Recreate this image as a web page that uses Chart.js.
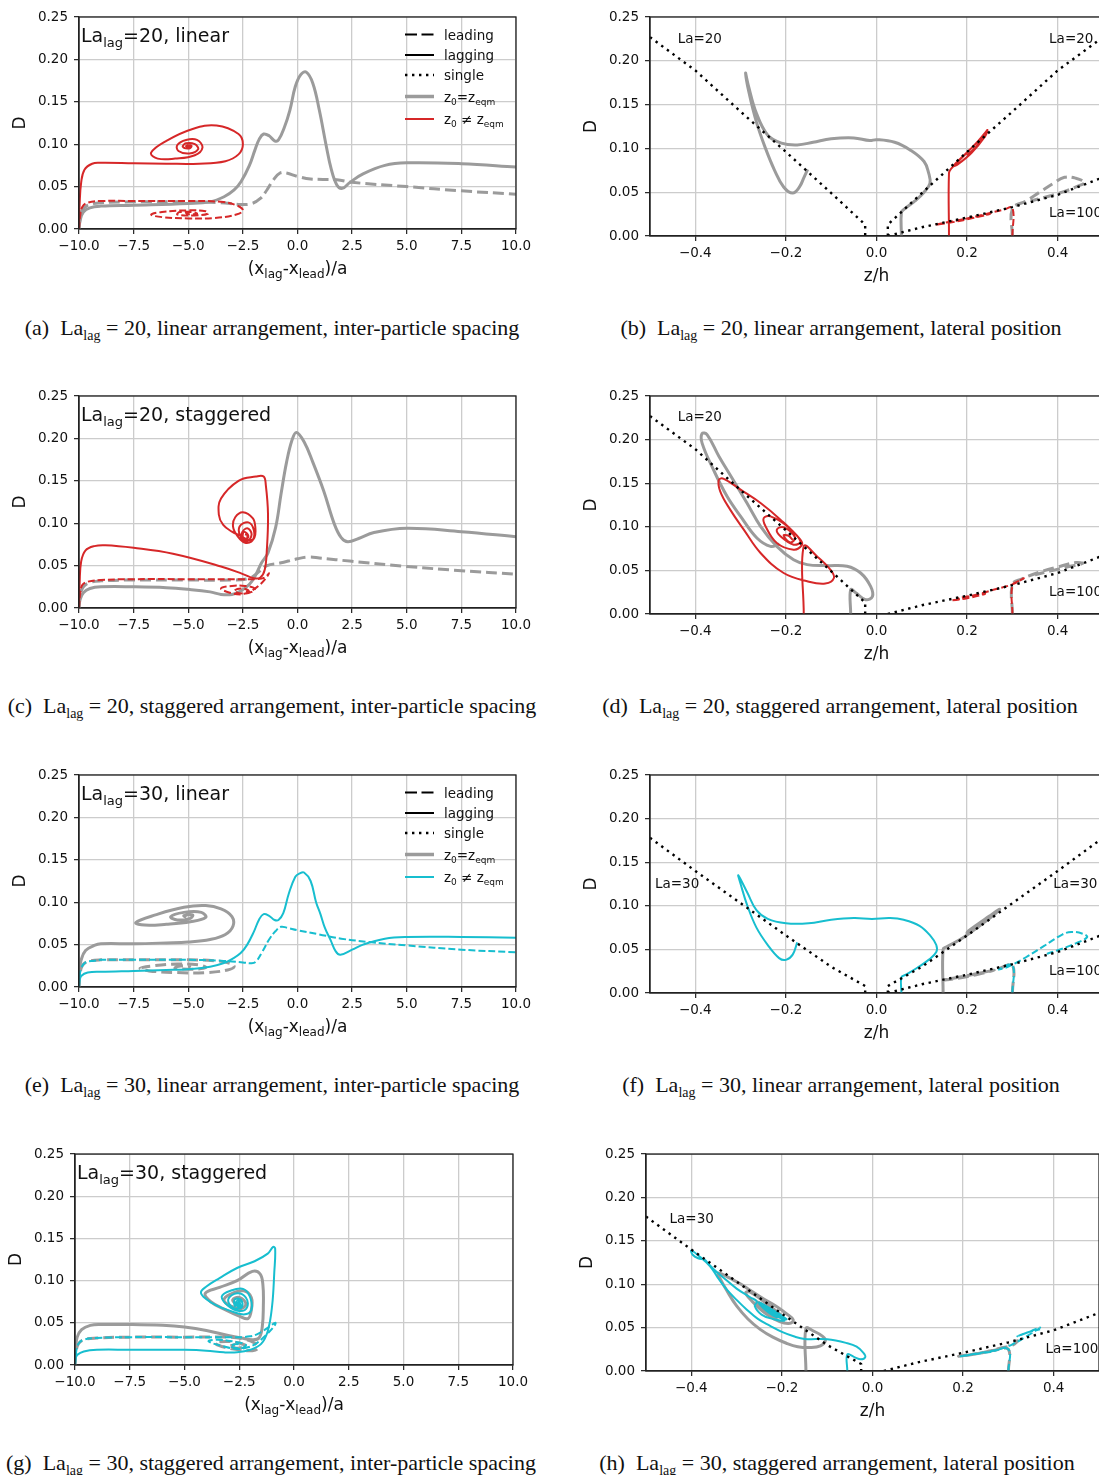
<!DOCTYPE html>
<html>
<head>
<meta charset="utf-8">
<script src="https://cdn.jsdelivr.net/npm/chart.js@4.4.0/dist/chart.umd.min.js"></script>
<style>
  html, body { margin: 0; padding: 0; background: #fff; overflow: hidden; width: 1099px; height: 1475px; }
  canvas { position: absolute; }
  .cap { position: absolute; width: 560px; text-align: center; font-family: "Liberation Serif", "DejaVu Serif", serif;
         font-size: 22px; line-height: 24px; color: #111; white-space: nowrap; }
  .cap sub { font-size: 14px; vertical-align: -5px; line-height: 0; }
</style>
</head>
<body>
<div class="cap" style="left:-8px;top:316px">(a)&nbsp; La<sub>lag</sub> = 20, linear arrangement, inter-particle spacing</div>
<div class="cap" style="left:561px;top:316px">(b)&nbsp; La<sub>lag</sub> = 20, linear arrangement, lateral position</div>
<div class="cap" style="left:-8px;top:694px">(c)&nbsp; La<sub>lag</sub> = 20, staggered arrangement, inter-particle spacing</div>
<div class="cap" style="left:560px;top:694px">(d)&nbsp; La<sub>lag</sub> = 20, staggered arrangement, lateral position</div>
<div class="cap" style="left:-8px;top:1073px">(e)&nbsp; La<sub>lag</sub> = 30, linear arrangement, inter-particle spacing</div>
<div class="cap" style="left:561px;top:1073px">(f)&nbsp; La<sub>lag</sub> = 30, linear arrangement, lateral position</div>
<div class="cap" style="left:-9px;top:1451px">(g)&nbsp; La<sub>lag</sub> = 30, staggered arrangement, inter-particle spacing</div>
<div class="cap" style="left:557px;top:1451px">(h)&nbsp; La<sub>lag</sub> = 30, staggered arrangement, lateral position</div>
<script>
const GRAY = '#9b9b9b', RED = '#d62728', CYAN = '#17becf', BLACK = '#000';

// tick positions
const xTicksSpacing = [-10, -7.5, -5, -2.5, 0, 2.5, 5, 7.5, 10];
const xTicksLateral = [-0.4, -0.2, 0, 0.2, 0.4];
const yTicks = [0, 0.05, 0.1, 0.15, 0.2, 0.25];

// single-particle reference lines (z/h, D)
const single20L = [[-0.5,0.227],[-0.4,0.189],[-0.3,0.142],[-0.2,0.096],[-0.1,0.049],[-0.025,0.013],[-0.025,0]];
const single20R = [[0.025,0],[0.025,0.013],[0.1,0.049],[0.2,0.096],[0.3,0.142],[0.4,0.189],[0.5,0.227]];
const single30L = [[-0.5,0.178],[-0.4,0.14],[-0.3,0.103],[-0.2,0.066],[-0.1,0.03],[-0.025,0.008],[-0.025,0]];
const single30R = [[0.025,0],[0.025,0.008],[0.1,0.03],[0.2,0.066],[0.3,0.103],[0.4,0.14],[0.5,0.178]];
const single100 = [[0.025,0],[0.1,0.01],[0.2,0.021],[0.3,0.033],[0.4,0.047],[0.5,0.067]];

// (a) La_lag=20, linear, spacing
const aLeadEqm = [[-10,0],[-9.95,0.012],[-9.85,0.022],[-9.6,0.028],[-9,0.031],[-7.5,0.032],[-5,0.032],[-3.5,0.031],[-2.6,0.029],[-2.1,0.03],[-1.7,0.036],[-1.4,0.046],[-1.1,0.058],[-0.8,0.066],[-0.5,0.066],[0,0.062],[0.6,0.059],[1.8,0.058],[2.5,0.055],[5,0.05],[7.5,0.045],[10,0.041]];
const aLagEqm = [[-10,0],[-9.95,0.01],[-9.8,0.02],[-9.5,0.025],[-9,0.027],[-7.5,0.028],[-5,0.03],[-4,0.032],[-3.36,0.038],[-2.9,0.046],[-2.58,0.056],[-2.2,0.075],[-1.95,0.093],[-1.75,0.106],[-1.55,0.112],[-1.3,0.11],[-1.05,0.104],[-0.87,0.105],[-0.6,0.12],[-0.35,0.14],[-0.1,0.168],[0.15,0.182],[0.4,0.185],[0.7,0.172],[1.0,0.14],[1.3,0.1],[1.55,0.07],[1.8,0.052],[2.05,0.048],[2.4,0.055],[3.0,0.065],[4.0,0.075],[5.0,0.078],[7.5,0.077],[10,0.073]];
const aLagNeq = [[-10,0],[-9.97,0.03],[-9.9,0.055],[-9.75,0.07],[-9.4,0.077],[-9,0.078],[-7.5,0.0775],[-6,0.077],[-4.5,0.077],[-3.3,0.08],[-2.7,0.088],[-2.5,0.1],[-2.7,0.112],[-3.7,0.122],[-4.8,0.118],[-6,0.104],[-6.7,0.09],[-6.4,0.083],[-5.6,0.083],[-4.7,0.087],[-4.35,0.096],[-4.6,0.105],[-5.1,0.105],[-5.5,0.099],[-5.45,0.092],[-4.95,0.089],[-4.55,0.094],[-4.7,0.1],[-5.1,0.101],[-5.25,0.097],[-4.95,0.095],[-4.85,0.098],[-5.0,0.099],[-5.1,0.0975],[-4.95,0.097],[-4.9,0.0985],[-5.0,0.0985]];
const aLeadNeq = [[-10,0],[-9.95,0.015],[-9.85,0.026],[-9.6,0.031],[-9,0.033],[-7.5,0.033],[-5,0.033],[-3.5,0.032],[-2.8,0.028],[-2.5,0.022],[-2.8,0.017],[-3.8,0.013],[-5,0.0125],[-6.2,0.014],[-6.7,0.017],[-6.2,0.02],[-5,0.022],[-4.2,0.021],[-4.1,0.018],[-4.7,0.016],[-5.5,0.017],[-5.4,0.02],[-4.8,0.02],[-4.6,0.018],[-5.0,0.0175],[-5.1,0.019],[-4.9,0.0185]];

// (b) La_lag=20, linear, lateral position
const bLagEqm = [[0.055,0],[0.055,0.027],[0.062,0.031],[0.085,0.04],[0.105,0.05],[0.118,0.06],[0.115,0.072],[0.105,0.085],[0.075,0.098],[0.04,0.107],[0.0,0.11],[-0.015,0.109],[-0.05,0.112],[-0.1,0.111],[-0.14,0.107],[-0.175,0.104],[-0.21,0.106],[-0.24,0.115],[-0.265,0.14],[-0.283,0.172],[-0.289,0.186],[-0.282,0.165],[-0.265,0.13],[-0.245,0.1],[-0.225,0.075],[-0.205,0.056],[-0.185,0.049],[-0.17,0.056],[-0.16,0.067],[-0.152,0.076]];
const bLeadEqm = [[0.3,0],[0.3,0.031],[0.33,0.04],[0.36,0.05],[0.39,0.06],[0.415,0.067],[0.44,0.066],[0.46,0.061],[0.45,0.058],[0.41,0.05],[0.37,0.044],[0.34,0.04]];
const bLagNeq = [[0.16,0],[0.16,0.072],[0.165,0.077],[0.19,0.09],[0.22,0.106],[0.24,0.118],[0.245,0.121],[0.24,0.114],[0.21,0.095],[0.18,0.082],[0.17,0.08],[0.195,0.093],[0.225,0.108],[0.238,0.114],[0.22,0.102],[0.2,0.092]];
const bLeadNeq = [[0.3,0],[0.3,0.032],[0.28,0.03],[0.24,0.025],[0.2,0.02],[0.16,0.016],[0.13,0.013],[0.16,0.015],[0.2,0.019],[0.25,0.025],[0.22,0.022],[0.18,0.018]];

// (c) La_lag=20, staggered, spacing
const cLeadEqm = [[-10,0],[-9.95,0.014],[-9.8,0.025],[-9.5,0.03],[-9,0.032],[-7.5,0.033],[-5,0.033],[-3,0.033],[-2.2,0.035],[-1.8,0.042],[-1.4,0.05],[-0.8,0.053],[0,0.058],[0.5,0.06],[1,0.059],[2.5,0.055],[5,0.049],[7.5,0.044],[10,0.04]];
const cLagEqm = [[-10,0],[-9.95,0.01],[-9.8,0.018],[-9.5,0.023],[-9,0.025],[-7.5,0.025],[-6,0.024],[-5,0.022],[-4,0.019],[-3.5,0.016],[-3,0.016],[-2.6,0.02],[-2.2,0.028],[-1.95,0.037],[-1.65,0.053],[-1.35,0.065],[-1.0,0.095],[-0.75,0.135],[-0.5,0.172],[-0.25,0.198],[-0.05,0.207],[0.3,0.196],[0.7,0.172],[1.2,0.138],[1.7,0.098],[2.0,0.083],[2.3,0.078],[2.8,0.082],[3.5,0.089],[5,0.094],[7.5,0.09],[10,0.084]];
const cLagNeq = [[-10,0],[-9.97,0.03],[-9.9,0.055],[-9.7,0.068],[-9.3,0.073],[-8.8,0.074],[-7.5,0.071],[-5.7,0.064],[-3.5,0.049],[-2.5,0.04],[-2.0,0.035],[-1.7,0.036],[-1.5,0.045],[-1.4,0.07],[-1.35,0.111],[-1.45,0.145],[-1.55,0.155],[-1.9,0.155],[-2.7,0.15],[-3.5,0.129],[-3.6,0.11],[-3.4,0.098],[-3.0,0.09],[-2.6,0.085],[-2.2,0.08],[-1.97,0.083],[-1.93,0.095],[-2.05,0.106],[-2.5,0.113],[-2.85,0.107],[-2.95,0.096],[-2.75,0.085],[-2.4,0.077],[-2.05,0.08],[-2.0,0.092],[-2.25,0.101],[-2.65,0.096],[-2.6,0.084],[-2.3,0.079],[-2.1,0.087],[-2.3,0.094],[-2.55,0.088],[-2.4,0.08],[-2.25,0.085],[-2.45,0.09],[-2.5,0.083],[-2.35,0.081],[-2.3,0.086],[-2.4,0.087]];
const cLeadNeq = [[-10,0],[-9.95,0.016],[-9.85,0.027],[-9.6,0.031],[-9,0.033],[-7.5,0.034],[-5,0.034],[-2.5,0.034],[-1.9,0.034],[-1.5,0.036],[-1.3,0.041],[-1.45,0.035],[-1.7,0.028],[-2.0,0.022],[-2.3,0.018],[-2.6,0.016],[-3.1,0.018],[-3.5,0.023],[-3.0,0.026],[-2.4,0.026],[-1.95,0.023],[-2.1,0.019],[-2.5,0.017],[-2.9,0.02],[-2.6,0.023],[-2.25,0.021],[-2.4,0.019]];

// (d) La_lag=20, staggered, lateral position
const dLagEqm = [[-0.057,0],[-0.057,0.028],[-0.045,0.024],[-0.024,0.0164],[-0.009,0.02],[-0.013,0.0317],[-0.035,0.047],[-0.065,0.0547],[-0.109,0.0555],[-0.153,0.0566],[-0.183,0.0622],[-0.22,0.0776],[-0.256,0.1006],[-0.286,0.1273],[-0.319,0.156],[-0.348,0.181],[-0.374,0.2057],[-0.385,0.207],[-0.385,0.196],[-0.36,0.1656],[-0.33,0.135],[-0.3,0.112],[-0.264,0.0872],[-0.234,0.0776],[-0.215,0.08]];
const dLeadEqm = [[0.3,0],[0.3,0.034],[0.32,0.04],[0.36,0.048],[0.4,0.054],[0.44,0.059],[0.455,0.058],[0.43,0.055],[0.39,0.05],[0.35,0.045]];
const dLagNeq = [[-0.1606,0],[-0.1606,0.0776],[-0.131,0.066],[-0.102,0.051],[-0.094,0.0413],[-0.113,0.0349],[-0.153,0.0375],[-0.205,0.047],[-0.256,0.07],[-0.293,0.0968],[-0.323,0.1197],[-0.345,0.1407],[-0.348,0.154],[-0.337,0.155],[-0.3,0.1426],[-0.256,0.1273],[-0.212,0.1082],[-0.168,0.0853],[-0.165,0.079],[-0.183,0.0738],[-0.22,0.0814],[-0.245,0.1006],[-0.249,0.11],[-0.234,0.112],[-0.197,0.1006],[-0.168,0.0834],[-0.183,0.0795],[-0.212,0.0891],[-0.22,0.0967],[-0.205,0.0995],[-0.18,0.088],[-0.19,0.082],[-0.205,0.09],[-0.195,0.09],[-0.185,0.085]];
const dLeadNeq = [[0.3,0],[0.3,0.033],[0.315,0.038],[0.325,0.041],[0.3,0.034],[0.26,0.028],[0.22,0.022],[0.18,0.017],[0.165,0.0155],[0.2,0.018],[0.24,0.023],[0.2,0.02],[0.18,0.018]];

// (e) La_lag=30, linear, spacing
const eLagEqm = [[-10,0],[-9.97,0.02],[-9.9,0.032],[-9.7,0.043],[-9.3,0.049],[-9,0.051],[-7.5,0.051],[-6,0.052],[-5,0.053],[-4,0.056],[-3.3,0.062],[-2.95,0.072],[-3.0,0.083],[-3.5,0.092],[-4.2,0.096],[-5.2,0.094],[-6.5,0.085],[-7.4,0.076],[-7.0,0.073],[-6.0,0.074],[-4.9,0.077],[-4.2,0.082],[-4.4,0.088],[-5.2,0.088],[-5.8,0.083],[-5.5,0.079],[-4.9,0.081],[-4.8,0.085],[-5.2,0.084],[-5.1,0.082]];
const eLeadEqm = [[-10,0],[-9.95,0.015],[-9.85,0.025],[-9.6,0.03],[-9,0.032],[-7.5,0.032],[-5,0.032],[-3.8,0.031],[-3.1,0.028],[-2.9,0.024],[-3.2,0.02],[-4.2,0.017],[-5.5,0.017],[-6.8,0.019],[-7.2,0.022],[-6.6,0.025],[-5.5,0.027],[-4.5,0.026],[-4.2,0.023],[-4.8,0.021],[-5.6,0.022],[-5.5,0.024],[-5,0.025],[-4.9,0.023]];
const eLagNeq = [[-10,0],[-9.97,0.008],[-9.9,0.013],[-9.6,0.017],[-9,0.018],[-7.5,0.019],[-6,0.02],[-5,0.021],[-4,0.024],[-3.4,0.028],[-3,0.033],[-2.6,0.04],[-2.3,0.05],[-2.0,0.065],[-1.75,0.08],[-1.55,0.086],[-1.3,0.084],[-1.05,0.079],[-0.87,0.079],[-0.65,0.087],[-0.4,0.11],[-0.1,0.13],[0.1,0.134],[0.3,0.135],[0.6,0.125],[0.85,0.1],[1.05,0.086],[1.25,0.07],[1.52,0.055],[1.75,0.042],[1.96,0.038],[2.5,0.044],[3.0,0.05],[4,0.057],[5,0.059],[7.5,0.059],[10,0.058]];
const eLeadNeq = [[-10,0],[-9.97,0.012],[-9.9,0.022],[-9.7,0.029],[-9.3,0.031],[-9,0.032],[-7.5,0.032],[-5,0.032],[-3.5,0.031],[-2.5,0.029],[-2.1,0.028],[-1.9,0.03],[-1.6,0.042],[-1.3,0.056],[-1.0,0.066],[-0.75,0.071],[-0.5,0.07],[0,0.067],[1,0.062],[2,0.057],[3.3,0.053],[5,0.049],[7.5,0.044],[10,0.041]];

// (f) La_lag=30, linear, lateral position
const fLagEqm = [[0.147,0],[0.147,0.05],[0.155,0.053],[0.19,0.063],[0.23,0.078],[0.26,0.09],[0.272,0.096],[0.262,0.093],[0.225,0.078],[0.2,0.069],[0.205,0.072],[0.24,0.085],[0.255,0.09],[0.23,0.08]];
const fLeadEqm = [[0.3,0],[0.3,0.032],[0.27,0.028],[0.23,0.023],[0.19,0.019],[0.15,0.015],[0.18,0.017],[0.22,0.021],[0.26,0.026],[0.22,0.022],[0.2,0.02]];
const fLagNeq = [[0.055,0],[0.055,0.018],[0.065,0.021],[0.09,0.029],[0.115,0.038],[0.132,0.047],[0.132,0.055],[0.12,0.065],[0.095,0.077],[0.06,0.084],[0.03,0.086],[-0.01,0.085],[-0.05,0.086],[-0.1,0.084],[-0.15,0.08],[-0.2,0.08],[-0.24,0.085],[-0.265,0.095],[-0.285,0.115],[-0.305,0.135],[-0.3,0.125],[-0.285,0.1],[-0.265,0.075],[-0.24,0.055],[-0.215,0.04],[-0.2,0.038],[-0.185,0.044],[-0.175,0.058]];
const fLeadNeq = [[0.3,0],[0.3,0.032],[0.27,0.027],[0.29,0.03],[0.33,0.041],[0.37,0.054],[0.41,0.067],[0.43,0.07],[0.455,0.068],[0.465,0.064],[0.44,0.057],[0.4,0.049],[0.37,0.044]];

// (g) La_lag=30, staggered, spacing
const gLagEqm = [[-10,0],[-9.97,0.02],[-9.9,0.033],[-9.7,0.042],[-9.3,0.047],[-8.8,0.048],[-7.5,0.048],[-6,0.047],[-5,0.045],[-4,0.041],[-3,0.035],[-2.4,0.032],[-1.9,0.03],[-1.6,0.032],[-1.45,0.045],[-1.4,0.07],[-1.42,0.095],[-1.55,0.108],[-1.9,0.111],[-2.6,0.1],[-3.4,0.092],[-4.05,0.085],[-3.8,0.075],[-3.1,0.065],[-2.5,0.058],[-2.1,0.055],[-1.95,0.065],[-1.95,0.08],[-2.3,0.088],[-2.9,0.084],[-3.2,0.077],[-2.9,0.07],[-2.4,0.067],[-2.2,0.073],[-2.5,0.08],[-2.8,0.077],[-2.6,0.072],[-2.5,0.074]];
const gLeadEqm = [[-10,0],[-9.95,0.015],[-9.85,0.025],[-9.6,0.03],[-9,0.032],[-7.5,0.033],[-5,0.033],[-3,0.033],[-2.3,0.031],[-1.8,0.026],[-1.65,0.02],[-1.9,0.017],[-2.5,0.018],[-3.3,0.022],[-3.6,0.026],[-3.1,0.028],[-2.5,0.026],[-2.2,0.022],[-2.6,0.02],[-3.0,0.022],[-2.7,0.024]];
const gLagNeq = [[-10,0],[-9.97,0.008],[-9.9,0.012],[-9.6,0.016],[-9,0.018],[-7.5,0.018],[-6,0.018],[-5,0.018],[-4,0.017],[-3.2,0.015],[-2.6,0.015],[-2.0,0.018],[-1.5,0.025],[-1.2,0.04],[-1.0,0.07],[-0.9,0.11],[-0.86,0.138],[-0.95,0.14],[-1.2,0.132],[-1.8,0.123],[-2.6,0.115],[-3.4,0.103],[-4.0,0.093],[-4.25,0.086],[-4.0,0.078],[-3.5,0.07],[-3.0,0.065],[-2.3,0.06],[-1.95,0.065],[-2.0,0.08],[-2.3,0.09],[-2.9,0.088],[-3.3,0.081],[-3.0,0.07],[-2.5,0.064],[-2.15,0.068],[-2.2,0.08],[-2.6,0.085],[-3.0,0.078],[-2.8,0.068],[-2.4,0.068],[-2.4,0.077],[-2.7,0.078],[-2.7,0.07],[-2.55,0.072],[-2.45,0.068],[-2.35,0.073],[-2.5,0.077],[-2.65,0.074],[-2.55,0.069],[-2.45,0.071],[-2.55,0.073],[-2.6,0.074],[-2.45,0.07],[-2.5,0.075],[-2.58,0.071]];
const gLeadNeq = [[-10,0],[-9.95,0.015],[-9.85,0.025],[-9.6,0.03],[-9,0.032],[-7.5,0.033],[-5,0.033],[-3,0.033],[-2,0.034],[-1.5,0.039],[-1.1,0.046],[-0.85,0.05],[-0.9,0.046],[-1.3,0.035],[-1.7,0.026],[-2.1,0.021],[-2.6,0.019],[-3.2,0.022],[-3.9,0.028],[-3.5,0.03],[-2.8,0.028],[-2.2,0.024],[-2.4,0.02],[-2.9,0.022],[-2.6,0.025],[-2.4,0.022]];

// (h) La_lag=30, staggered, lateral position
const hLagEqm = [[-0.147,0],[-0.147,0.049],[-0.13,0.046],[-0.11,0.04],[-0.104,0.035],[-0.115,0.029],[-0.137,0.027],[-0.165,0.028],[-0.19,0.032],[-0.22,0.039],[-0.248,0.048],[-0.275,0.06],[-0.3,0.075],[-0.322,0.093],[-0.337,0.107],[-0.341,0.113],[-0.33,0.111],[-0.315,0.107],[-0.29,0.1],[-0.27,0.093],[-0.24,0.083],[-0.211,0.074],[-0.19,0.066],[-0.175,0.059],[-0.182,0.055],[-0.205,0.057],[-0.235,0.066],[-0.265,0.08],[-0.28,0.09],[-0.27,0.091],[-0.245,0.082],[-0.215,0.07],[-0.2,0.063],[-0.215,0.063],[-0.24,0.072],[-0.255,0.08],[-0.235,0.074],[-0.215,0.067]];
const hLeadEqm = [[0.3,0],[0.3,0.025],[0.27,0.024],[0.23,0.02],[0.19,0.017],[0.22,0.019],[0.26,0.023],[0.28,0.026],[0.31,0.03],[0.32,0.035],[0.3,0.03]];
const hLagNeq = [[-0.0556,0],[-0.0556,0.019],[-0.04,0.016],[-0.026,0.0134],[-0.016,0.016],[-0.02,0.021],[-0.035,0.028],[-0.0556,0.032],[-0.1,0.0365],[-0.15,0.037],[-0.174,0.04],[-0.2,0.045],[-0.226,0.052],[-0.253,0.06],[-0.278,0.071],[-0.3,0.082],[-0.322,0.094],[-0.342,0.108],[-0.359,0.121],[-0.382,0.132],[-0.4,0.139],[-0.397,0.134],[-0.385,0.13],[-0.37,0.128],[-0.363,0.124],[-0.35,0.117],[-0.33,0.108],[-0.3,0.095],[-0.27,0.085],[-0.255,0.08],[-0.26,0.075],[-0.245,0.065],[-0.22,0.06],[-0.195,0.058],[-0.2,0.062],[-0.225,0.07],[-0.25,0.078],[-0.24,0.072],[-0.22,0.064],[-0.21,0.062],[-0.23,0.068],[-0.235,0.072],[-0.215,0.065],[-0.225,0.067],[-0.25,0.079],[-0.2,0.06],[-0.19,0.06],[-0.245,0.078],[-0.24,0.075],[-0.2,0.062],[-0.205,0.063],[-0.235,0.074]];
const hLeadNeq = [[0.3,0],[0.3,0.025],[0.26,0.022],[0.22,0.019],[0.195,0.017],[0.24,0.021],[0.28,0.025],[0.31,0.031],[0.34,0.04],[0.37,0.05],[0.35,0.046],[0.32,0.04],[0.34,0.044],[0.37,0.048]];

// curve labels in the lateral plots: text, z/h, D
const bLabels = [['La=20', -0.439, 0.2245], ['La=20', 0.381, 0.2245], ['La=100', 0.381, 0.026]];
const dLabels = [['La=20', -0.439, 0.2255], ['La=100', 0.381, 0.025]];
const fLabels = [['La=30', -0.489, 0.125], ['La=30', 0.39, 0.125], ['La=100', 0.381, 0.025]];
const hLabels = [['La=30', -0.448, 0.1747], ['La=100', 0.382, 0.025]];
const legendLabels = ['leading', 'lagging', 'single'];

const CW = 545, CH = 290;
const panels = [
  { id: 'pa', kind: 'spacing', left: 0, top: 0, box: [79, 17, 516, 229], la: '20', arr: 'linear', accent: RED, legend: true,
    curves: [[aLeadNeq, RED, 'dashed'], [aLagNeq, RED, 'solid'], [aLagEqm, GRAY, 'solid'], [aLeadEqm, GRAY, 'dashed']] },
  { id: 'pb', kind: 'lateral', left: 560, top: 0, box: [650, 17, 1103, 236], labels: bLabels,
    curves: [[single20L, BLACK, 'dotted'], [single20R, BLACK, 'dotted'], [single100, BLACK, 'dotted'],
             [bLeadNeq, RED, 'dashed'], [bLagNeq, RED, 'solid'], [bLagEqm, GRAY, 'solid'], [bLeadEqm, GRAY, 'dashed']] },
  { id: 'pc', kind: 'spacing', left: 0, top: 380, box: [79, 396, 516, 608], la: '20', arr: 'staggered', accent: RED,
    curves: [[cLeadNeq, RED, 'dashed'], [cLagNeq, RED, 'solid'], [cLagEqm, GRAY, 'solid'], [cLeadEqm, GRAY, 'dashed']] },
  { id: 'pd', kind: 'lateral', left: 560, top: 380, box: [650, 396, 1103, 614], labels: dLabels,
    curves: [[single20L, BLACK, 'dotted'], [single100, BLACK, 'dotted'],
             [dLeadNeq, RED, 'dashed'], [dLagNeq, RED, 'solid'], [dLagEqm, GRAY, 'solid'], [dLeadEqm, GRAY, 'dashed']] },
  { id: 'pe', kind: 'spacing', left: 0, top: 760, box: [79, 775, 516, 987], la: '30', arr: 'linear', accent: CYAN, legend: true,
    curves: [[eLeadNeq, CYAN, 'dashed'], [eLagNeq, CYAN, 'solid'], [eLagEqm, GRAY, 'solid'], [eLeadEqm, GRAY, 'dashed']] },
  { id: 'pf', kind: 'lateral', left: 560, top: 760, box: [650, 775, 1103, 993], labels: fLabels,
    curves: [[single30L, BLACK, 'dotted'], [single30R, BLACK, 'dotted'], [single100, BLACK, 'dotted'],
             [fLeadNeq, CYAN, 'dashed'], [fLagNeq, CYAN, 'solid'], [fLagEqm, GRAY, 'solid'], [fLeadEqm, GRAY, 'dashed']] },
  { id: 'pg', kind: 'spacing', left: 0, top: 1140, box: [75, 1153, 513, 1365], la: '30', arr: 'staggered', accent: CYAN,
    curves: [[gLeadNeq, CYAN, 'dashed'], [gLagNeq, CYAN, 'solid'], [gLagEqm, GRAY, 'solid'], [gLeadEqm, GRAY, 'dashed']] },
  { id: 'ph', kind: 'lateral', left: 556, top: 1140, box: [646, 1153, 1099, 1371], labels: hLabels,
    curves: [[single30L, BLACK, 'dotted'], [single100, BLACK, 'dotted'],
             [hLeadNeq, CYAN, 'dashed'], [hLagNeq, CYAN, 'solid'], [hLagEqm, GRAY, 'solid'], [hLeadEqm, GRAY, 'dashed']] }
];
const byId = {};
panels.forEach(p => { byId[p.id] = p; });

const FONT = '"DejaVu Sans", sans-serif';

function curve(arr, color, style) {
  const w = color === GRAY ? 3 : (color === BLACK ? 2.4 : 2);
  let dash = [];
  if (style === 'dashed') dash = color === GRAY ? [11, 5] : [7, 3];
  if (style === 'dotted') dash = [2.4, 4.6];
  return {
    data: arr.map(([x, y]) => ({ x, y })),
    borderColor: color, borderWidth: w, borderDash: dash,
    showLine: true, pointRadius: 0, pointHoverRadius: 0, fill: false,
    tension: style === 'dotted' ? 0 : 0.4, borderCapStyle: 'butt', borderJoinStyle: 'round'
  };
}

// text with subscripts; parts = [[text, isSub], ...], y is the baseline
function rich(ctx, parts, x, y, size, align) {
  const sub = Math.round(size * 0.7);
  let w = 0;
  parts.forEach(([t, s]) => { ctx.font = (s ? sub : size) + 'px ' + FONT; w += ctx.measureText(t).width; });
  let cx = align === 'center' ? x - w / 2 : x;
  ctx.textAlign = 'left';
  ctx.textBaseline = 'alphabetic';
  parts.forEach(([t, s]) => {
    ctx.font = (s ? sub : size) + 'px ' + FONT;
    ctx.fillText(t, cx, y + (s ? size * 0.25 : 0));
    cx += ctx.measureText(t).width;
  });
}

function drawLegend(ctx, A, accent) {
  const x0 = A.left + 326, x1 = A.left + 355, tx = A.left + 365;
  const rows = [
    { y: 17.5, color: BLACK, w: 2, dash: [12, 4.5], text: [[legendLabels[0], 0]] },
    { y: 38, color: BLACK, w: 2, dash: [], text: [[legendLabels[1], 0]] },
    { y: 58, color: BLACK, w: 2.4, dash: [2.4, 4.6], text: [[legendLabels[2], 0]] },
    { y: 79.5, color: GRAY, w: 3.5, dash: [], text: [['z', 0], ['0', 1], ['=z', 0], ['eqm', 1]] },
    { y: 102, color: accent, w: 2, dash: [], text: [['z', 0], ['0', 1], [' \u2260 z', 0], ['eqm', 1]] }
  ];
  rows.forEach(r => {
    const y = A.top + r.y;
    ctx.beginPath();
    ctx.strokeStyle = r.color; ctx.lineWidth = r.w; ctx.setLineDash(r.dash);
    ctx.moveTo(x0, y); ctx.lineTo(x1, y); ctx.stroke();
    ctx.setLineDash([]);
    ctx.fillStyle = '#111';
    rich(ctx, r.text, tx, y + 5, 13.5, 'left');
  });
}

const decor = {
  id: 'decor',
  afterDraw(chart) {
    const p = byId[chart.canvas.id];
    const ctx = chart.ctx, A = chart.chartArea;
    ctx.save();
    ctx.setLineDash([]);
    ctx.strokeStyle = '#222'; ctx.lineWidth = 1.3;
    ctx.strokeRect(A.left, A.top, A.right - A.left, A.bottom - A.top);
    ctx.fillStyle = '#111';

    ctx.save();
    ctx.translate(A.left - 58, (A.top + A.bottom) / 2);
    ctx.rotate(-Math.PI / 2);
    ctx.font = '17px ' + FONT; ctx.textAlign = 'center'; ctx.textBaseline = 'middle';
    ctx.fillText('D', 0, 0);
    ctx.restore();

    const cx = (A.left + A.right) / 2;
    if (p.kind === 'spacing') {
      rich(ctx, [['(x', 0], ['lag', 1], ['-x', 0], ['lead', 1], [')/a', 0]], cx, A.bottom + 45, 17, 'center');
      rich(ctx, [['La', 0], ['lag', 1], ['=' + p.la + ', ' + p.arr, 0]], A.left + 2, A.top + 25, 19, 'left');
      if (p.legend) drawLegend(ctx, A, p.accent);
    } else {
      ctx.font = '17px ' + FONT; ctx.textAlign = 'center'; ctx.textBaseline = 'alphabetic';
      ctx.fillText('z/h', cx, A.bottom + 45);
      const sx = chart.scales.x, sy = chart.scales.y;
      ctx.font = '13.5px ' + FONT; ctx.textAlign = 'left'; ctx.textBaseline = 'middle';
      p.labels.forEach(([t, x, y]) => ctx.fillText(t, sx.getPixelForValue(x), sy.getPixelForValue(y)));
    }
    ctx.restore();
  }
};

const minus = v => (v < -1e-9 ? '\u2212' : '') + Math.abs(v).toFixed(1);

panels.forEach(p => {
  const cv = document.createElement('canvas');
  cv.id = p.id; cv.width = CW; cv.height = CH;
  cv.style.left = p.left + 'px'; cv.style.top = p.top + 'px';
  document.body.appendChild(cv);
  const [l, t, r, b] = p.box;
  const spacing = p.kind === 'spacing';
  const xt = spacing ? xTicksSpacing : xTicksLateral;
  const grid = { color: '#cccccc', lineWidth: 1.3, drawTicks: true, tickLength: 5, tickColor: '#222', tickWidth: 1.2 };
  const border = { display: true, color: '#222', width: 1.3 };
  const tickFont = { family: 'DejaVu Sans', size: 13.5 };
  new Chart(cv, {
    type: 'scatter',
    data: { datasets: p.curves.map(c => curve(...c)) },
    options: {
      responsive: false, animation: false, devicePixelRatio: 1,
      layout: { padding: { top: t - p.top, right: p.left + CW - r, left: 0, bottom: 0 } },
      plugins: { legend: { display: false }, tooltip: { enabled: false } },
      events: [],
      scales: {
        x: {
          type: 'linear', min: spacing ? -10 : -0.5, max: spacing ? 10 : 0.5,
          afterBuildTicks: s => { s.ticks = xt.map(v => ({ value: v })); },
          afterFit: s => { s.height = p.top + CH - b; },
          ticks: { font: tickFont, color: '#111', padding: 4, maxRotation: 0, autoSkip: false, callback: v => minus(v) },
          grid, border
        },
        y: {
          type: 'linear', min: 0, max: 0.25,
          afterBuildTicks: s => { s.ticks = yTicks.map(v => ({ value: v })); },
          afterFit: s => { s.width = l - p.left; },
          ticks: { font: tickFont, color: '#111', padding: 6, autoSkip: false, callback: v => v.toFixed(2) },
          grid, border
        }
      }
    },
    plugins: [decor]
  });
});
</script>
</body>
</html>
